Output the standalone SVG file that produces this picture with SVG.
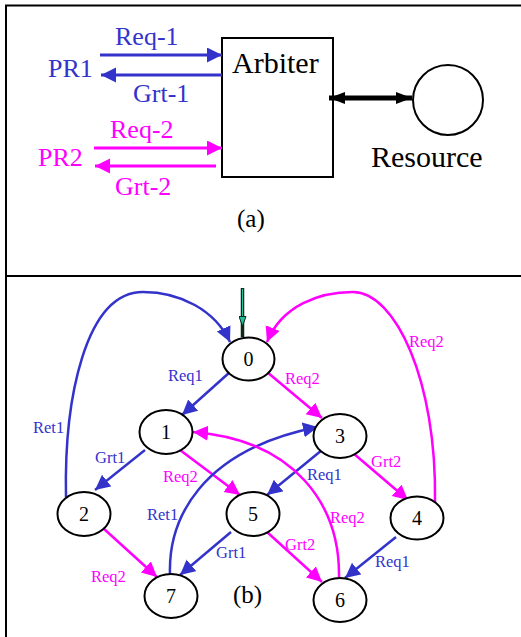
<svg xmlns="http://www.w3.org/2000/svg" width="521" height="637" viewBox="0 0 521 637" font-family="Liberation Serif">
<defs>
<style>
.b{fill:#3333cc}
.m{fill:#ff00ff}
.k{fill:#000}
.sf{font-family:"Liberation Serif",serif}
.eb{fill:none;stroke:#3333cc;stroke-width:2.5;marker-end:url(#ab)}
.em{fill:none;stroke:#ff00ff;stroke-width:2.5;marker-end:url(#am)}
.nd{fill:#fff;stroke:#000;stroke-width:2}
</style>
<marker id="ab" markerUnits="userSpaceOnUse" markerWidth="16" markerHeight="16" refX="15" refY="7.5" orient="auto"><path d="M0,0 L15,7.5 L0,15 z" fill="#3333cc"/></marker>
<marker id="am" markerUnits="userSpaceOnUse" markerWidth="16" markerHeight="16" refX="15" refY="7.5" orient="auto"><path d="M0,0 L15,7.5 L0,15 z" fill="#ff00ff"/></marker>
<marker id="ak" markerUnits="userSpaceOnUse" markerWidth="18" markerHeight="14" refX="16" refY="6" orient="auto"><path d="M0,0 L16,6 L0,12 z" fill="#000"/></marker>
<marker id="aks" markerUnits="userSpaceOnUse" markerWidth="18" markerHeight="14" refX="0" refY="6" orient="auto"><path d="M16,0 L0,6 L16,12 z" fill="#000"/></marker>
<marker id="ag" markerUnits="userSpaceOnUse" markerWidth="10" markerHeight="12" refX="4" refY="10" orient="0"><path d="M0.5,0.5 L4,10 L7.5,0.5 z" fill="#20c0a0" stroke="#0a2a1a" stroke-width="1"/></marker>
</defs>
<rect width="521" height="637" fill="#fff"/>
<g id="frame" fill="none" stroke="#000" stroke-width="2">
<path d="M6,637 V5.5 H521"/>
<line x1="6" y1="276" x2="521" y2="276"/>
</g>
<g id="arbiter">
<rect x="222" y="38" width="111" height="139" fill="#fff" stroke="#000" stroke-width="2"/>
<text class="k sf" x="232" y="73" font-family="Liberation Serif" style="font-family:'Liberation Serif',serif" font-size="30">Arbiter</text>
</g>
<g id="resource">
<circle cx="448" cy="100" r="35" fill="#fff" stroke="#000" stroke-width="2"/>
<text class="k sf" x="371" y="167" font-family="Liberation Serif" style="font-family:'Liberation Serif',serif" font-size="30">Resource</text>
</g>
<g id="pr1"><text class="b sf" x="48" y="77" font-family="Liberation Serif" style="font-family:'Liberation Serif',serif" font-size="26">PR1</text></g>
<g id="pr2"><text class="m sf" x="38" y="166" font-family="Liberation Serif" style="font-family:'Liberation Serif',serif" font-size="26">PR2</text></g>
<g id="connectors-a">
<line x1="100" y1="55" x2="222" y2="55" stroke="#3333cc" stroke-width="3" marker-end="url(#ab)"/>
<line x1="222" y1="75" x2="101" y2="75" stroke="#3333cc" stroke-width="3" marker-end="url(#ab)"/>
<line x1="94" y1="148" x2="222" y2="148" stroke="#ff00ff" stroke-width="3" marker-end="url(#am)"/>
<line x1="216" y1="166" x2="95" y2="166" stroke="#ff00ff" stroke-width="3" marker-end="url(#am)"/>
<line x1="329" y1="98" x2="412" y2="98" stroke="#000" stroke-width="5" marker-end="url(#ak)" marker-start="url(#aks)"/>
<text class="b sf" x="115" y="45" font-family="Liberation Serif" style="font-family:'Liberation Serif',serif" font-size="26">Req-1</text>
<text class="b sf" x="133" y="102" font-family="Liberation Serif" style="font-family:'Liberation Serif',serif" font-size="26">Grt-1</text>
<text class="m sf" x="110" y="138" font-family="Liberation Serif" style="font-family:'Liberation Serif',serif" font-size="26">Req-2</text>
<text class="m sf" x="115" y="195" font-family="Liberation Serif" style="font-family:'Liberation Serif',serif" font-size="26">Grt-2</text>
</g>
<text class="k sf" x="237" y="227" font-family="Liberation Serif" style="font-family:'Liberation Serif',serif" font-size="25">(a)</text>
<g id="connectors-b">
<line x1="242.5" y1="288" x2="242.5" y2="337" stroke="#0a2a1a" stroke-width="3.5"/>
<line x1="242.5" y1="289" x2="242.5" y2="326" stroke="#20c0a0" stroke-width="1" marker-end="url(#ag)"/>
<path class="eb" d="M66,497 C64,400 85,292 143,292 C180,292 215,310 230,342"/>
<path class="em" d="M435,502 C437,380 395,292 353,292 C320,292 282,305 267,342"/>
<path class="eb" d="M230,372 L182,415"/>
<path class="em" d="M267,372 L322,418"/>
<path class="eb" d="M145,450 L95,490"/>
<path class="em" d="M180,450 L240,495"/>
<path class="eb" d="M322,450 L267,495"/>
<path class="em" d="M353,453 L408,500"/>
<path class="eb" d="M170,575 C168,520 200,450 318,427"/>
<path class="em" d="M339,577 C340,505 295,440 193,432"/>
<path class="eb" d="M231,532 L180,575"/>
<path class="em" d="M267,532 L322,582"/>
<path class="eb" d="M396,537 L345,578"/>
<path class="em" d="M103,528 L157,577"/>
<text class="b sf" x="33" y="433" font-family="Liberation Serif" style="font-family:'Liberation Serif',serif" font-size="16.5">Ret1</text>
<text class="m sf" x="409" y="347" font-family="Liberation Serif" style="font-family:'Liberation Serif',serif" font-size="16.5">Req2</text>
<text class="b sf" x="168" y="381" font-family="Liberation Serif" style="font-family:'Liberation Serif',serif" font-size="16.5">Req1</text>
<text class="m sf" x="285" y="384" font-family="Liberation Serif" style="font-family:'Liberation Serif',serif" font-size="16.5">Req2</text>
<text class="b sf" x="95" y="463" font-family="Liberation Serif" style="font-family:'Liberation Serif',serif" font-size="16.5">Grt1</text>
<text class="m sf" x="163" y="482" font-family="Liberation Serif" style="font-family:'Liberation Serif',serif" font-size="16.5">Req2</text>
<text class="b sf" x="307" y="480" font-family="Liberation Serif" style="font-family:'Liberation Serif',serif" font-size="16.5">Req1</text>
<text class="m sf" x="371" y="467" font-family="Liberation Serif" style="font-family:'Liberation Serif',serif" font-size="16.5">Grt2</text>
<text class="b sf" x="147" y="520" font-family="Liberation Serif" style="font-family:'Liberation Serif',serif" font-size="16.5">Ret1</text>
<text class="m sf" x="330" y="523" font-family="Liberation Serif" style="font-family:'Liberation Serif',serif" font-size="16.5">Req2</text>
<text class="b sf" x="216" y="558" font-family="Liberation Serif" style="font-family:'Liberation Serif',serif" font-size="16.5">Grt1</text>
<text class="m sf" x="285" y="550" font-family="Liberation Serif" style="font-family:'Liberation Serif',serif" font-size="16.5">Grt2</text>
<text class="b sf" x="375" y="567" font-family="Liberation Serif" style="font-family:'Liberation Serif',serif" font-size="16.5">Req1</text>
<text class="m sf" x="91" y="582" font-family="Liberation Serif" style="font-family:'Liberation Serif',serif" font-size="16.5">Req2</text>
</g>
<g id="n0"><ellipse class="nd" cx="248.5" cy="359" rx="26" ry="21.5"/><text class="k sf" x="248.5" y="366" font-family="Liberation Serif" style="font-family:'Liberation Serif',serif" font-size="20" text-anchor="middle">0</text></g>
<g id="n1"><ellipse class="nd" cx="166" cy="432" rx="26.5" ry="22"/><text class="k sf" x="166" y="439" font-family="Liberation Serif" style="font-family:'Liberation Serif',serif" font-size="20" text-anchor="middle">1</text></g>
<g id="n2"><ellipse class="nd" cx="84" cy="514" rx="26.5" ry="22"/><text class="k sf" x="84" y="521" font-family="Liberation Serif" style="font-family:'Liberation Serif',serif" font-size="20" text-anchor="middle">2</text></g>
<g id="n3"><ellipse class="nd" cx="340" cy="436" rx="26.5" ry="22"/><text class="k sf" x="340" y="443" font-family="Liberation Serif" style="font-family:'Liberation Serif',serif" font-size="20" text-anchor="middle">3</text></g>
<g id="n4"><ellipse class="nd" cx="417" cy="518" rx="26.5" ry="21.5"/><text class="k sf" x="417" y="525" font-family="Liberation Serif" style="font-family:'Liberation Serif',serif" font-size="20" text-anchor="middle">4</text></g>
<g id="n5"><ellipse class="nd" cx="253" cy="514" rx="26.5" ry="22"/><text class="k sf" x="253" y="521" font-family="Liberation Serif" style="font-family:'Liberation Serif',serif" font-size="20" text-anchor="middle">5</text></g>
<g id="n6"><ellipse class="nd" cx="340" cy="600" rx="26.5" ry="22"/><text class="k sf" x="340" y="607" font-family="Liberation Serif" style="font-family:'Liberation Serif',serif" font-size="20" text-anchor="middle">6</text></g>
<g id="n7"><ellipse class="nd" cx="171" cy="596" rx="26.5" ry="22"/><text class="k sf" x="171" y="603" font-family="Liberation Serif" style="font-family:'Liberation Serif',serif" font-size="20" text-anchor="middle">7</text></g>
<text class="k sf" x="233" y="603" font-family="Liberation Serif" style="font-family:'Liberation Serif',serif" font-size="25">(b)</text>
</svg>
